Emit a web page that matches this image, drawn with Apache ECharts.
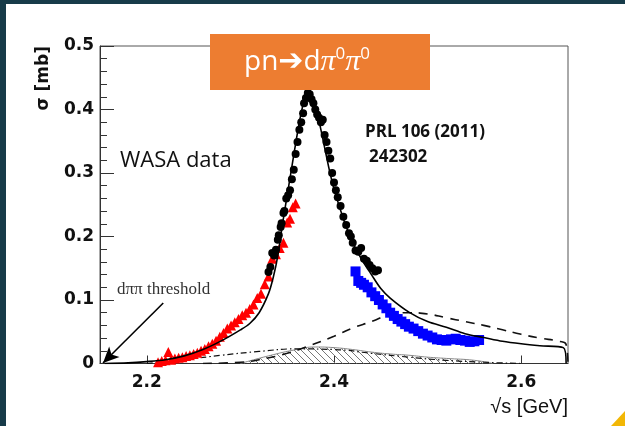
<!DOCTYPE html>
<html><head><meta charset="utf-8">
<script src="https://cdn.jsdelivr.net/npm/echarts@6/dist/echarts.min.js"></script>
<style>html,body{margin:0;padding:0;background:#fff}#c{width:625px;height:426px}</style>
</head><body><div id="c"></div>
<script>
// ---- data ----
const xTicks = [2.2, 2.4, 2.6];
const yTicks = [0, 0.1, 0.2, 0.3, 0.4, 0.5];

const wasaBlack = [[2.330,0.144],[2.332,0.152],[2.334,0.174],[2.336,0.170],[2.338,0.179],[2.340,0.195],[2.341,0.202],[2.343,0.215],[2.344,0.221],[2.346,0.237],[2.347,0.240],[2.349,0.260],[2.351,0.265],[2.353,0.273],[2.355,0.290],[2.357,0.305],[2.359,0.330],[2.361,0.349],[2.363,0.368],[2.365,0.380],[2.367,0.394],[2.368,0.410],[2.370,0.418],[2.372,0.426],[2.374,0.424],
[2.376,0.416],[2.378,0.410],[2.380,0.400],[2.382,0.392],[2.384,0.387],[2.386,0.380],[2.388,0.384],[2.390,0.360],[2.392,0.349],[2.394,0.335],[2.396,0.323],[2.398,0.300],[2.400,0.285],[2.402,0.273],[2.404,0.262],[2.407,0.248],[2.410,0.231],[2.413,0.218],[2.416,0.205],[2.418,0.200],[2.420,0.190],[2.423,0.178],[2.426,0.176],[2.429,0.182],[2.432,0.165],[2.435,0.162],[2.438,0.155],[2.441,0.150],[2.444,0.145],[2.447,0.147]];

const wasaRed = [[2.212,0.002],[2.216,0.004],[2.220,0.005],[2.223,0.018],[2.226,0.006],[2.230,0.008],[2.234,0.009],[2.238,0.010],[2.242,0.012],[2.246,0.013],[2.250,0.015],[2.254,0.017],[2.258,0.020],[2.262,0.023],[2.266,0.027],[2.270,0.031],[2.274,0.036],[2.278,0.042],[2.282,0.048],[2.286,0.055],[2.290,0.060],[2.294,0.065],[2.298,0.070],[2.302,0.076],[2.306,0.080],[2.310,0.086],[2.314,0.093],[2.318,0.103],[2.322,0.110],[2.326,0.125],[2.330,0.137],[2.334,0.165],[2.338,0.172],[2.342,0.182],[2.346,0.190],[2.350,0.222],[2.353,0.228],[2.356,0.246],[2.359,0.252]];

const wasaBlue = [[2.423,0.145],[2.426,0.130],[2.429,0.127],[2.432,0.124],[2.436,0.120],[2.440,0.112],[2.444,0.106],[2.448,0.100],[2.452,0.093],[2.456,0.087],[2.460,0.080],[2.464,0.075],[2.468,0.070],[2.472,0.066],[2.476,0.062],[2.480,0.058],[2.485,0.055],[2.490,0.051],[2.495,0.047],[2.500,0.044],[2.505,0.041],[2.510,0.038],[2.515,0.037],[2.520,0.036],[2.525,0.038],[2.530,0.039],[2.535,0.037],[2.540,0.036],[2.545,0.034],[2.550,0.035],[2.555,0.037]];

const fitTotal = [[2.155,0],[2.18,0.001],[2.20,0.003],[2.22,0.006],[2.24,0.012],[2.26,0.022],[2.28,0.036],[2.30,0.053],[2.31,0.063],[2.32,0.080],[2.33,0.110],[2.335,0.135],[2.34,0.170],[2.345,0.220],[2.35,0.265],[2.355,0.310],[2.36,0.355],[2.365,0.395],[2.37,0.422],[2.375,0.424],[2.38,0.405],[2.385,0.375],[2.39,0.340],[2.395,0.305],[2.40,0.275],[2.41,0.228],[2.42,0.190],[2.43,0.163],[2.44,0.140],[2.45,0.118],[2.46,0.103],[2.48,0.081],[2.50,0.066],[2.52,0.057],[2.54,0.047],[2.56,0.041],[2.58,0.035],[2.60,0.031],[2.62,0.028],[2.645,0.025],[2.648,0]];

const fitDashed = [[2.26,0],[2.30,0.002],[2.32,0.006],[2.35,0.016],[2.37,0.026],[2.40,0.043],[2.42,0.056],[2.44,0.066],[2.46,0.077],[2.48,0.080],[2.50,0.078],[2.52,0.072],[2.54,0.066],[2.56,0.060],[2.58,0.053],[2.60,0.046],[2.62,0.040],[2.64,0.035],[2.648,0.030],[2.650,0]];

const fitDashDot = [[2.20,0],[2.24,0.006],[2.28,0.013],[2.32,0.019],[2.36,0.023],[2.40,0.022],[2.44,0.016],[2.48,0.010],[2.52,0.005],[2.56,0.002],[2.60,0]];

const hatchBand = [[2.30,0],[2.33,0.012],[2.36,0.022],[2.38,0.026],[2.40,0.025],[2.42,0.022],[2.44,0.018],[2.46,0.015],[2.48,0.013],[2.50,0.010],[2.52,0.008],[2.55,0.005],[2.57,0]];

const arrowFrom = [2.2176, 0.0953];
const arrowTo = [2.1532, 0.0008];

// ---- hatch pattern ----
const pat = document.createElement('canvas');
pat.width = 7; pat.height = 7;
const pc = pat.getContext('2d');
pc.strokeStyle = '#777'; pc.lineWidth = 1;
pc.beginPath(); pc.moveTo(0,0); pc.lineTo(7,7); pc.stroke();
pc.beginPath(); pc.moveTo(-1,6); pc.lineTo(1,8); pc.stroke();
pc.beginPath(); pc.moveTo(6,-1); pc.lineTo(8,1); pc.stroke();

const chart = echarts.init(document.getElementById('c'));
const lbl = {fontFamily:'DejaVu Sans', fontWeight:'bold', fontSize:17, color:'#111'};
chart.setOption({
  animation:false,
  backgroundColor:'#fff',
  grid:{left:100, right:57, top:46, bottom:62.5, show:true, borderColor:'#555', borderWidth:1, backgroundColor:'transparent'},
  xAxis:{type:'value', min:2.15, max:2.65, interval:0.05,
    axisLine:{show:true, lineStyle:{color:'#333', width:1}},
    axisTick:{show:true, inside:true, length:8, customValues:xTicks, lineStyle:{color:'#333'}},
    axisLabel:Object.assign({customValues:xTicks, margin:11, formatter:v=>v.toFixed(1)}, lbl),
    splitLine:{show:false},
    name:'√s [GeV]', nameLocation:'end', nameGap:0,
    nameTextStyle:{fontFamily:'Liberation Sans', fontSize:20, color:'#111', align:'right', verticalAlign:'top', padding:[34,0,0,0]}
  },
  yAxis:{type:'value', min:0, max:0.5, interval:0.1,
    axisLine:{show:true, lineStyle:{color:'#333', width:1}},
    axisTick:{show:true, inside:true, length:14, lineStyle:{color:'#333'}},
    minorTick:{show:true, splitNumber:5, length:7, lineStyle:{color:'#333'}},
    axisLabel:Object.assign({margin:6, formatter:v=>v===0?'0':v.toFixed(1), padding:[4,0,0,0]}, lbl),
    splitLine:{show:false},
    name:'σ [mb]', nameLocation:'end', nameRotate:90, nameGap:0,
    nameTextStyle:{fontFamily:'DejaVu Sans', fontWeight:'bold', fontSize:17, color:'#111', align:'right', verticalAlign:'bottom', padding:[0,0,48,0]}
  },
  series:[
    {type:'line', data:hatchBand, symbol:'none', smooth:true, z:1,
     lineStyle:{color:'#888', width:1}, areaStyle:{color:{image:pat, repeat:'repeat'}, opacity:1}},
    {type:'line', data:fitDashDot, symbol:'none', smooth:true, z:2,
     lineStyle:{color:'#111', width:1.2, type:[6,3,1.5,3]}},
    {type:'line', data:fitDashed, symbol:'none', smooth:true, z:2,
     lineStyle:{color:'#111', width:1.6, type:[9,7]}},
    {type:'scatter', data:wasaRed, symbol:'triangle', symbolSize:10, itemStyle:{color:'#f00', opacity:1}, z:3},
    {type:'scatter', data:wasaBlue, symbol:'rect', symbolSize:10, itemStyle:{color:'#00f', opacity:1}, z:3},
    {type:'scatter', data:wasaBlack, symbol:'circle', symbolSize:8, itemStyle:{color:'#000', opacity:1}, z:3},
    {type:'line', data:fitTotal, symbol:'none', smooth:0.3, z:4,
     lineStyle:{color:'#000', width:1.6},
     markLine:{silent:true, symbol:['none','arrow'], symbolSize:[11,16], label:{show:false},
       lineStyle:{color:'#000', width:1.6, type:'solid'},
       data:[[{coord:arrowFrom},{coord:arrowTo}]]}}
  ],
  graphic:[
    {type:'rect', left:0, top:0, shape:{width:625, height:4}, style:{fill:'#173b49'}, z:100},
    {type:'rect', left:0, top:0, shape:{width:6, height:426}, style:{fill:'#173b49'}, z:100},
    {type:'polygon', shape:{points:[[611,426],[625,411],[625,426]]}, style:{fill:'#f2b705'}, z:100},
    {type:'rect', left:210, top:34, shape:{width:220, height:56}, style:{fill:'#ed7d31'}, z:100},
    {type:'text', left:244, top:44, z:101, style:{
      text:'{a|pn}{r|➔}{a|d}{p|π}{s|0}{p|π}{s|0}',
      rich:{
        a:{fontFamily:'Open Sans', fontSize:28, fill:'#fff', lineHeight:36},
        r:{fontFamily:'DejaVu Sans', fontWeight:'bold', fontSize:30, fill:'#fff', lineHeight:36},
        p:{fontFamily:'Liberation Serif', fontStyle:'italic', fontSize:30, fill:'#fff', lineHeight:36},
        s:{fontFamily:'Open Sans', fontSize:17, fill:'#fff', lineHeight:36, verticalAlign:'top', padding:[2,0,0,0]}
      }}},
    {type:'text', left:120, top:150, z:50, style:{text:'WASA data', fontFamily:'Open Sans', fontSize:22, fill:'#111'}},
    {type:'text', left:365, top:124, z:50, style:{text:'PRL 106 (2011)', fontFamily:'Open Sans', fontWeight:'bold', fontSize:17, fill:'#111'}},
    {type:'text', left:369, top:149, z:50, style:{text:'242302', fontFamily:'Open Sans', fontWeight:'bold', fontSize:17, fill:'#111'}},
    {type:'text', left:117, top:281, z:50, style:{text:'dππ threshold', fontFamily:'Liberation Serif', fontSize:17, fill:'#333'}}
  ]
});
</script></body></html>
